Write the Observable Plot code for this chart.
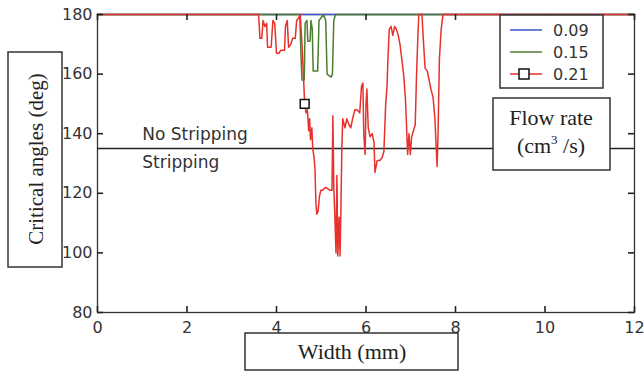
<!DOCTYPE html>
<html><head><meta charset="utf-8">
<script src="https://cdn.jsdelivr.net/npm/d3@7"></script>
<script src="https://cdn.jsdelivr.net/npm/@observablehq/plot@0.6"></script>
<style>
html,body{margin:0;padding:0;background:#fff;}
#chart{position:relative;width:644px;height:375px;}
</style></head><body><div id="chart"></div>
<script>
const seriesNames = ["0.09", "0.15", "0.21"];
const seriesColors = ["#3d55c8", "#4d7d2e", "#e8312c"];
const xTicks = [0, 2, 4, 6, 8, 10, 12];
const yTicks = [80, 100, 120, 140, 160, 180];
const thresholdY = [135];
const regionLabels = ["No Stripping", "Stripping"];
const regionLabelY = [139.7, 130.2];

const blueX = [0, 12];
const blueY = [180, 180];

const greenX = [0, 4.50, 4.52, 4.55, 4.57, 4.62, 4.64, 4.68, 4.70, 4.75, 4.77, 4.80, 4.82, 4.92, 4.95, 5.05, 5.10, 5.13, 5.22, 5.25, 5.28, 5.32, 12];
const greenY = [180, 180, 180, 165, 158, 158, 177, 178, 171, 171, 178, 175, 161, 161, 178, 180, 178, 160, 159, 160, 178, 180, 180];

const redX = [0, 3.60, 3.63, 3.67, 3.70, 3.74, 3.78, 3.80, 3.88, 3.92, 3.96, 4.00, 4.05, 4.10, 4.18, 4.20, 4.24, 4.27, 4.32, 4.36, 4.42, 4.45, 4.50, 4.53, 4.57, 4.60, 4.63, 4.66, 4.69, 4.72, 4.74, 4.76, 4.79, 4.81, 4.84, 4.86, 4.88, 4.90, 4.93, 4.96, 4.99, 5.02, 5.10, 5.20, 5.24, 5.26, 5.28, 5.30, 5.33, 5.35, 5.37, 5.40, 5.42, 5.44, 5.46, 5.48, 5.53, 5.57, 5.62, 5.66, 5.70, 5.75, 5.80, 5.86, 5.90, 5.93, 5.95, 5.98, 6.00, 6.02, 6.05, 6.09, 6.14, 6.18, 6.20, 6.25, 6.31, 6.36, 6.40, 6.44, 6.47, 6.49, 6.52, 6.56, 6.60, 6.64, 6.68, 6.72, 6.76, 6.80, 6.84, 6.88, 6.90, 6.93, 6.96, 6.99, 7.02, 7.06, 7.10, 7.13, 7.16, 7.18, 7.25, 7.28, 7.32, 7.37, 7.41, 7.45, 7.50, 7.54, 7.57, 7.59, 7.61, 7.64, 7.68, 7.72, 12];
const redY = [180, 180, 172, 172, 178, 176, 177, 169, 169, 178, 177, 167, 167, 168, 168, 176, 178, 169, 170, 172, 172, 178, 179, 180, 170, 160, 150, 147, 148, 141, 145, 138, 142, 135, 132, 128, 117, 113, 114, 119, 121, 121, 122, 121, 121, 146, 122, 114, 100, 126, 99, 112, 99, 115, 135, 145, 142, 145, 143, 142, 145, 148, 148, 147, 156, 157, 140, 133, 150, 155, 142, 139, 140, 137, 127, 131, 131, 132, 134, 150, 156, 165, 175, 176, 173, 176, 175, 173, 170, 165, 160, 152, 145, 133, 140, 133, 139, 141, 143, 160, 173, 180, 180, 172, 162, 161, 158, 155, 152, 145, 135, 129, 140, 165, 175, 180, 180];

const markerX = [4.63];
const markerY = [150];

const rows = (xs, ys) => xs.map((x, i) => ({x, y: ys[i]}));
const xDomain = [0, 12];
const yDomain = [80, 180];
// inward tick length, expressed in data units (~6px)
const xTickLen = 2.0;
const yTickLen = 0.135;

const chart = Plot.plot({
  width: 644,
  height: 375,
  marginLeft: 97,
  marginRight: 10,
  marginTop: 14,
  marginBottom: 63,
  x: {domain: xDomain},
  y: {domain: yDomain},
  style: {fontFamily: "DejaVu Sans", fontSize: "16px", color: "#333", background: "white"},
  marks: [
    Plot.frame({stroke: "#333", strokeWidth: 1.3}),
    Plot.ruleY(thresholdY, {stroke: "#222", strokeWidth: 1.5}),
    Plot.line(rows(blueX, blueY), {x: "x", y: "y", stroke: seriesColors[0], strokeWidth: 1.5}),
    Plot.line(rows(greenX, greenY), {x: "x", y: "y", stroke: seriesColors[1], strokeWidth: 1.5}),
    Plot.line(rows(redX, redY), {x: "x", y: "y", stroke: seriesColors[2], strokeWidth: 1.5}),
    Plot.dot(rows(markerX, markerY), {x: "x", y: "y", symbol: "square", r: 5, fill: "white", stroke: "#111", strokeWidth: 1.5}),
    // inward ticks on all four sides
    Plot.ruleX(xTicks, {y1: yDomain[0], y2: yDomain[0] + xTickLen, stroke: "#222", strokeWidth: 1.6}),
    Plot.ruleX(xTicks, {y1: yDomain[1], y2: yDomain[1] - xTickLen, stroke: "#222", strokeWidth: 1.6}),
    Plot.ruleY(yTicks, {x1: xDomain[0], x2: xDomain[0] + yTickLen, stroke: "#222", strokeWidth: 1.6}),
    Plot.ruleY(yTicks, {x1: xDomain[1], x2: xDomain[1] - yTickLen, stroke: "#222", strokeWidth: 1.6}),
    Plot.axisX({anchor: "bottom", ticks: xTicks, tickSize: 0, tickPadding: 9, label: null}),
    Plot.axisY({anchor: "left", ticks: yTicks, tickSize: 0, tickPadding: 5, label: null}),
    Plot.text(regionLabels, {x: 1.0, y: (d, i) => regionLabelY[i], text: d => d, textAnchor: "start", fontSize: 17, fill: "#333"})
  ]
});
document.getElementById("chart").append(chart);

const svg = d3.select(chart);
const serif = "'Liberation Serif', 'Times New Roman', serif";
const boxStroke = "#333";

// y-axis title box
svg.append("rect").attr("x", 8).attr("y", 52).attr("width", 54).attr("height", 215)
  .attr("fill", "white").attr("stroke", boxStroke).attr("stroke-width", 1.5);
svg.append("text").attr("transform", "translate(36,159) rotate(-90)")
  .attr("text-anchor", "middle").attr("dy", "0.35em")
  .attr("font-family", serif).attr("font-size", 21).attr("fill", "#222")
  .text("Critical angles (deg)");

// x-axis title box
svg.append("rect").attr("x", 245).attr("y", 333).attr("width", 213).attr("height", 37)
  .attr("fill", "white").attr("stroke", boxStroke).attr("stroke-width", 1.5);
svg.append("text").attr("x", 352).attr("y", 359)
  .attr("text-anchor", "middle")
  .attr("font-family", serif).attr("font-size", 22).attr("fill", "#222")
  .text("Width (mm)");

// legend
svg.append("rect").attr("x", 500).attr("y", 15).attr("width", 103).attr("height", 73)
  .attr("fill", "white").attr("stroke", boxStroke).attr("stroke-width", 1.5);
seriesNames.forEach((name, i) => {
  const yy = 30 + i * 22;
  svg.append("line").attr("x1", 510).attr("x2", 542).attr("y1", yy).attr("y2", yy)
    .attr("stroke", seriesColors[i]).attr("stroke-width", 1.5);
  if (i === 2) {
    svg.append("rect").attr("x", 519).attr("y", yy - 5).attr("width", 10).attr("height", 10)
      .attr("fill", "white").attr("stroke", "#111").attr("stroke-width", 1.5);
  }
  svg.append("text").attr("x", 553).attr("y", yy).attr("dy", "0.35em")
    .attr("text-anchor", "start")
    .attr("font-family", "DejaVu Sans").attr("font-size", 16).attr("fill", "#333")
    .text(name);
});

// flow rate box
svg.append("rect").attr("x", 493).attr("y", 98).attr("width", 117).attr("height", 72)
  .attr("fill", "white").attr("stroke", boxStroke).attr("stroke-width", 1.5);
svg.append("text").attr("x", 551).attr("y", 125).attr("text-anchor", "middle")
  .attr("font-family", serif).attr("font-size", 22).attr("fill", "#222")
  .text("Flow rate");
const t2 = svg.append("text").attr("x", 551).attr("y", 153).attr("text-anchor", "middle")
  .attr("font-family", serif).attr("font-size", 22).attr("fill", "#222");
t2.append("tspan").text("(cm");
t2.append("tspan").attr("dy", -9).attr("font-size", 13).text("3");
t2.append("tspan").attr("dy", 9).text(" /s)");
</script>
</body></html>
